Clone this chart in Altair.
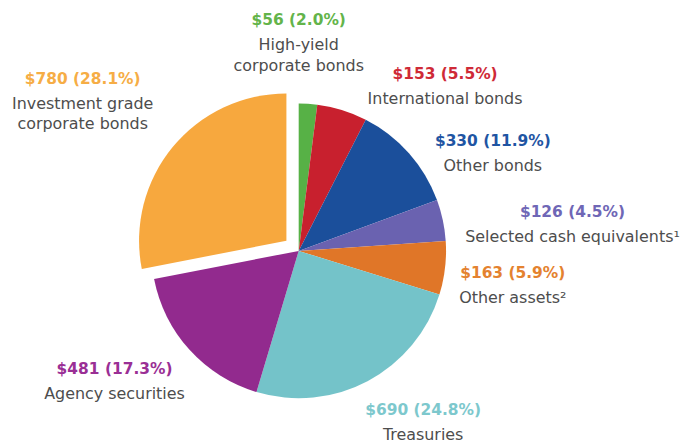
import math
import altair as alt
import pandas as pd

# ---- data ----
categories = [
    "High-yield corporate bonds", "International bonds", "Other bonds",
    "Selected cash equivalents", "Other assets", "Treasuries",
    "Agency securities", "Investment grade corporate bonds",
]
label_names = [
    "High-yield\ncorporate bonds", "International bonds", "Other bonds",
    "Selected cash equivalents\u00b9", "Other assets\u00b2", "Treasuries",
    "Agency securities", "Investment grade\ncorporate bonds",
]
values = [56, 153, 330, 126, 163, 690, 481, 780]
exploded_category = "Investment grade corporate bonds"

# ---- styles / layout ----
slice_colors = ["#57b146", "#c8202e", "#1b4f9b", "#6a62b0", "#e07628",
                "#74c3c9", "#922a8e", "#f7a83e"]
label_colors = ["#63b44a", "#cf2a37", "#1f55a3", "#6f67b6", "#e4822f",
                "#7dc8cd", "#9a2f95", "#f6ad45"]
CX, CY, R = 292, 243, 148
EXPLODE = 16
label_dx = [0, 147, 195, 275, 215, 125, -185, -217]
label_dy = [-232, -178, -110, -39, 22, 160, 119, -173]
FONT = "DejaVu Sans"

df = pd.DataFrame({
    "order": list(range(len(categories))),
    "category": categories,
    "name": label_names,
    "value": values,
    "ldx": label_dx,
    "ldy": label_dy,
})

base = alt.Chart(df).transform_joinaggregate(
    total="sum(value)"
).transform_window(
    cum="sum(value)", sort=[alt.SortField("order")], frame=[None, 0]
).transform_calculate(
    start="(datum.cum - datum.value) / datum.total",
    end="datum.cum / datum.total",
).transform_calculate(
    mid="(datum.start + datum.end) * PI",
    off=f"datum.category == '{exploded_category}' ? {EXPLODE} : 0",
).transform_calculate(
    px=f"{CX} + datum.off * sin(datum.mid)",
    py=f"{CY} - datum.off * cos(datum.mid)",
    lx=f"{CX} + datum.ldx",
    ly=f"{CY} + datum.ldy",
    label="'$' + datum.value + ' (' + format(datum.value / datum.total * 100, '.1f') + '%)'",
)

arcs = base.mark_arc(outerRadius=R).encode(
    theta=alt.Theta("start:Q", scale=alt.Scale(domain=[0, 1], range=[0, 2 * math.pi])),
    theta2="end:Q",
    x=alt.X("px:Q", scale=None),
    y=alt.Y("py:Q", scale=None),
    color=alt.Color("category:N", scale=alt.Scale(domain=categories, range=slice_colors), legend=None),
)

value_text = base.mark_text(
    font=FONT, fontSize=15.5, fontWeight="bold", align="center",
    baseline="alphabetic", dy=5,
).encode(
    x=alt.X("lx:Q", scale=None),
    y=alt.Y("ly:Q", scale=None),
    text="label:N",
    color=alt.Color("category:N", scale=alt.Scale(domain=categories, range=label_colors), legend=None),
)

name_text = base.mark_text(
    font=FONT, fontSize=16, align="center", baseline="alphabetic",
    dy=30, lineBreak="\n", lineHeight=21, color="#4d4d4d",
).encode(
    x=alt.X("lx:Q", scale=None),
    y=alt.Y("ly:Q", scale=None),
    text="name:N",
)

chart = alt.layer(arcs, value_text, name_text).resolve_scale(
    color="independent"
).properties(
    width=672, height=427, padding=0
).configure_view(stroke=None)

chart.save("out.html", embed_options={"renderer": "svg", "actions": False})
